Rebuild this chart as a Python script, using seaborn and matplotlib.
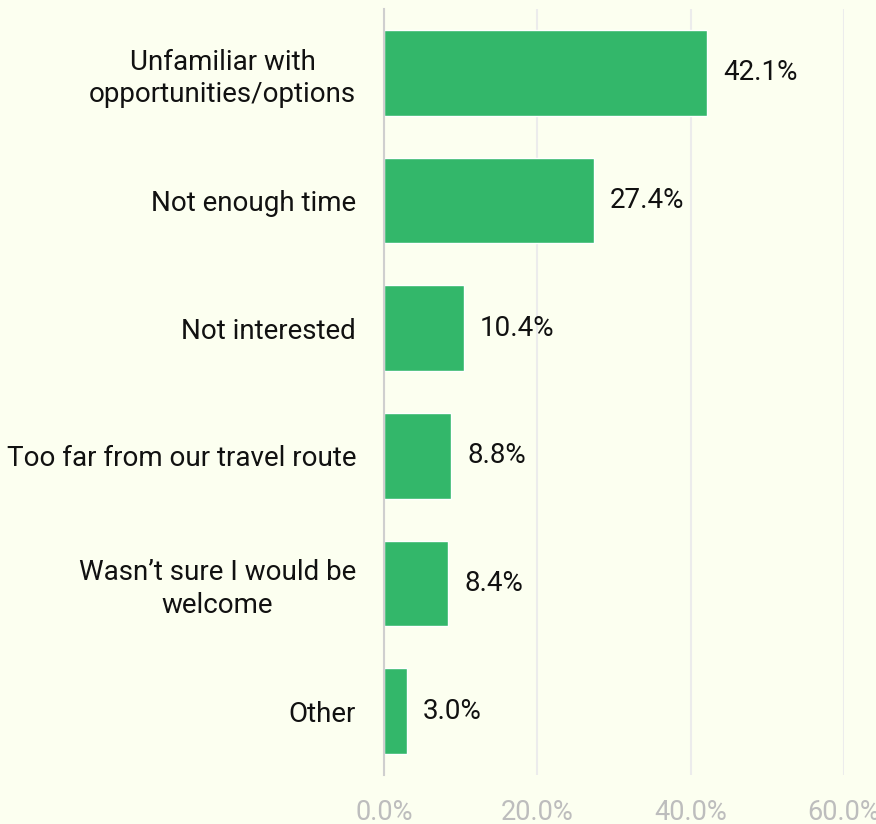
import numpy as np
import matplotlib
matplotlib.use('Agg')
import matplotlib.pyplot as plt
import pandas as pd
import seaborn as sns

reasons = ["Unfamiliar with\nopportunities/options", "Not enough time", "Not interested",
           "Too far from our travel route", "Wasn\u2019t sure I would be\nwelcome", "Other"]
shares = [42.1, 27.4, 10.4, 8.8, 8.4, 3.0]
xticks = [0, 20, 40, 60]

bg = "#fcfff0"
sns.set_style("white")
plt.rcParams['font.family'] = ['Roboto', 'DejaVu Sans']

df = pd.DataFrame({"reason": reasons, "share": shares})

fig = plt.figure(figsize=(8.76, 8.24), dpi=100, facecolor=bg)
ax = fig.add_axes([384 / 876, 1 - 775 / 824, 460 / 876, 766 / 824])
ax.set_facecolor(bg)

sns.barplot(data=df, x="share", y="reason", color="#33b76a", width=0.67,
            saturation=1, ax=ax, zorder=3)

ax.set_xlim(0, 60)
ax.set_ylim(5.5, -0.5)
ax.set_xticks(xticks)
ax.set_xticklabels([f"{t:.1f}%" for t in xticks], color="#bdbdbd", fontsize=19.5)
ax.grid(axis="x", color="#ececec", linewidth=1.5, zorder=0)
ax.tick_params(axis="x", length=0, pad=17)
ax.tick_params(axis="y", length=0, pad=20, labelsize=20, labelcolor="#111111")
for lab in ax.get_yticklabels():
    lab.set_multialignment("center")
    lab.set_linespacing(1.25)

for i, v in enumerate(shares):
    ax.text(v + 2.1, i, f"{v:.1f}%", va="center", ha="left", fontsize=20, color="#111111")

for s in ["top", "right", "bottom"]:
    ax.spines[s].set_visible(False)
ax.spines["left"].set_color("#cfcfcf")
ax.spines["left"].set_linewidth(1.5)
ax.spines["left"].set_zorder(4)
ax.set_xlabel("")
ax.set_ylabel("")

plt.savefig("out.png", facecolor=bg)
